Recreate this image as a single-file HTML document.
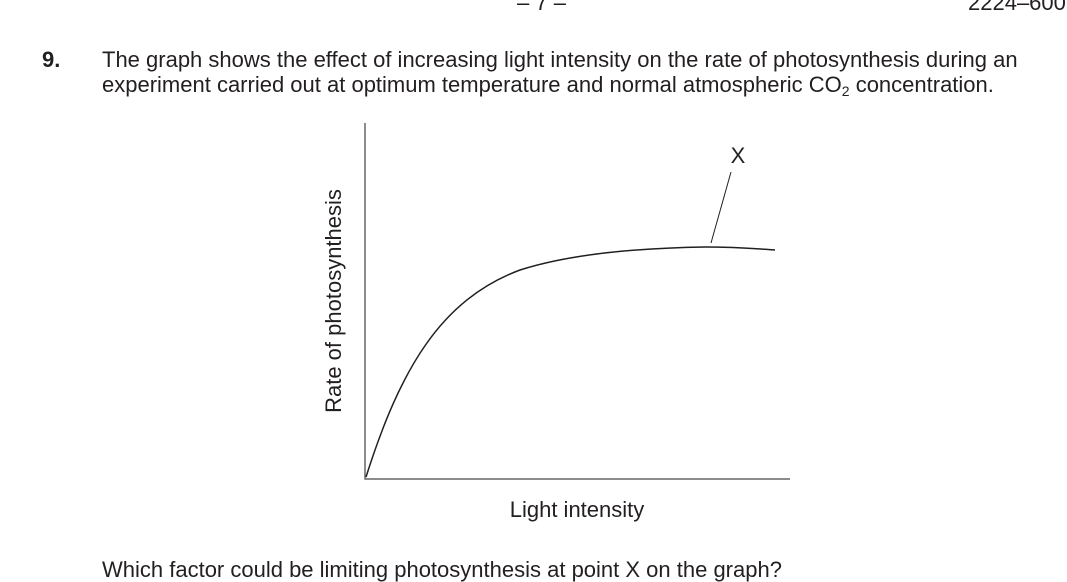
<!DOCTYPE html>
<html><head><style>
body{margin:0;width:1067px;height:568px;overflow:hidden;background:#fff;font-family:"Liberation Sans",Arial,sans-serif;color:#231f20;position:relative}
.t{position:absolute;white-space:nowrap;font-size:22px;line-height:24px}
</style></head><body>
<div class="t" style="left:517px;top:-9px">– 7 –</div>
<div class="t" style="left:968px;top:-9px">2224–6007</div>
<div class="t" style="left:42px;top:48px;font-weight:bold">9.</div>
<div class="t" style="left:102px;top:48px">The graph shows the effect of increasing light intensity on the rate of photosynthesis during an</div>
<div class="t" style="left:102px;top:73px">experiment carried out at optimum temperature and normal atmospheric CO<sub style="font-size:14px;vertical-align:-4px">2</sub> concentration.</div>
<svg style="position:absolute;left:0;top:0" width="1067" height="568">
<path d="M365 123 V479 H790" fill="none" stroke="#666" stroke-width="1.5"/>
<path d="M366 477 C400 370,440 300,520 270 C570 254,640 248,705 247 C740 247,760 249,775 250" fill="none" stroke="#231f20" stroke-width="1.5"/>
<line x1="711" y1="243" x2="731" y2="172" stroke="#231f20" stroke-width="1"/>
<text x="738" y="163" font-size="22" text-anchor="middle" font-family="Liberation Sans" fill="#231f20">X</text>
<text x="577" y="517" font-size="22" text-anchor="middle" font-family="Liberation Sans" fill="#231f20">Light intensity</text>
<text transform="translate(341,301) rotate(-90)" font-size="22" text-anchor="middle" font-family="Liberation Sans" fill="#231f20">Rate of photosynthesis</text>
</svg>
<div class="t" style="left:102px;top:558px">Which factor could be limiting photosynthesis at point X on the graph?</div>
</body></html>
